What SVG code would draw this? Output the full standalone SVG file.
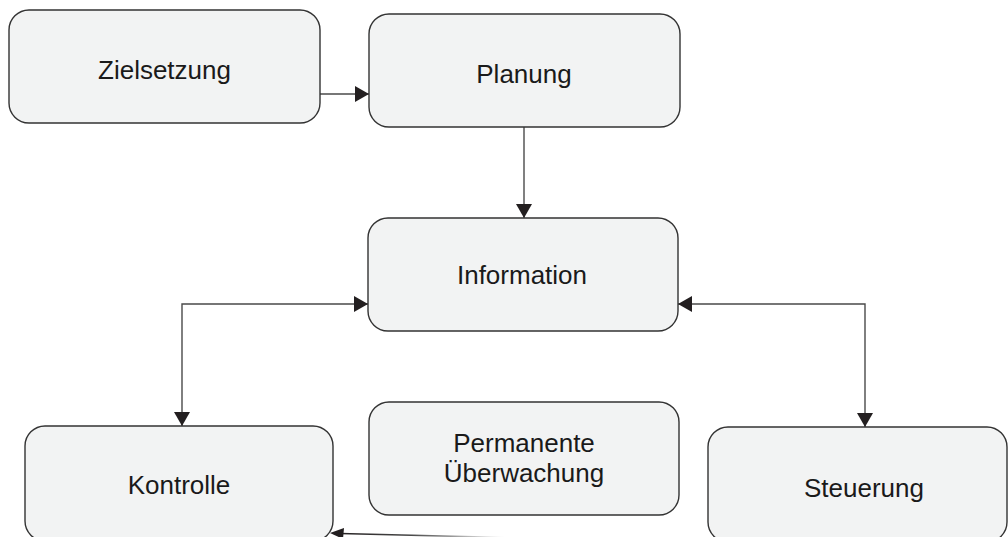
<svg xmlns="http://www.w3.org/2000/svg" width="1008" height="537" viewBox="0 0 1008 537">
  <style>
    .box { fill: #f2f3f3; stroke: #333333; stroke-width: 1.4; }
    .lbl { font-family: "Liberation Sans", Arial, sans-serif; font-size: 26px; fill: #1a1a1a; text-anchor: middle; dominant-baseline: central; }
    .edge { fill: none; stroke: #4a4a4a; stroke-width: 1.4; }
  </style>
  <defs>
    <marker id="arrow" viewBox="0 0 14 16" refX="14" refY="8" markerWidth="14" markerHeight="16" markerUnits="userSpaceOnUse" orient="auto-start-reverse">
      <path d="M0,0 L14,8 L0,16 Z" fill="#231f20"/>
    </marker>
    <linearGradient id="fade" gradientUnits="userSpaceOnUse" x1="335" y1="0" x2="505" y2="0">
      <stop offset="0" stop-color="#231f20"/>
      <stop offset="0.45" stop-color="#4a4a4a"/>
      <stop offset="1" stop-color="#ffffff"/>
    </linearGradient>
  </defs>

  <rect width="1008" height="537" fill="#ffffff"/>

  <g id="connectors">
    <path class="edge" d="M320,94 H369" marker-end="url(#arrow)"/>
    <path class="edge" d="M524,127 V218" marker-end="url(#arrow)"/>
    <path class="edge" d="M368,304 H182 V426" marker-start="url(#arrow)" marker-end="url(#arrow)"/>
    <path class="edge" d="M678,304 H865 V427" marker-start="url(#arrow)" marker-end="url(#arrow)"/>
    <path d="M505,537.5 L340,533.5" fill="none" stroke="url(#fade)" stroke-width="1.6"/>
    <path d="M344,528 L330,533 L343,539 Z" fill="#231f20"/>
  </g>

  <g id="zielsetzung">
    <rect class="box" x="9" y="10" width="311" height="113" rx="20"/>
    <text class="lbl" x="164.5" y="70">Zielsetzung</text>
  </g>
  <g id="planung">
    <rect class="box" x="369" y="14" width="311" height="113" rx="20"/>
    <text class="lbl" x="524" y="74">Planung</text>
  </g>
  <g id="information">
    <rect class="box" x="368" y="218" width="310" height="113" rx="20"/>
    <text class="lbl" x="522" y="275">Information</text>
  </g>
  <g id="kontrolle">
    <rect class="box" x="25" y="426" width="308" height="115" rx="20"/>
    <text class="lbl" x="179" y="485">Kontrolle</text>
  </g>
  <g id="ueberwachung">
    <rect class="box" x="369" y="402" width="310" height="113" rx="20"/>
    <text class="lbl" x="524" y="443">Permanente</text>
    <text class="lbl" x="524" y="473">Überwachung</text>
  </g>
  <g id="steuerung">
    <rect class="box" x="708" y="427" width="299" height="115" rx="20"/>
    <text class="lbl" x="864" y="488">Steuerung</text>
  </g>
</svg>
